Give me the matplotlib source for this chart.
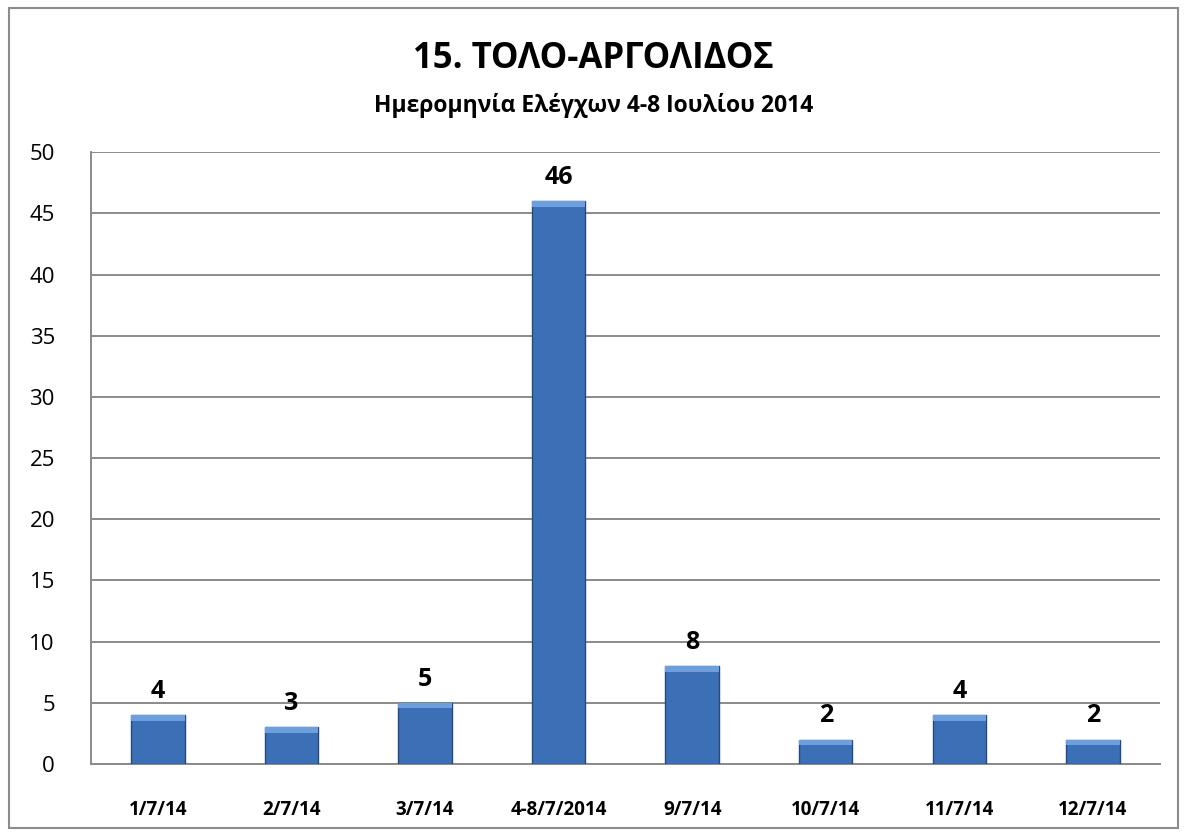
import numpy as np
import matplotlib.pyplot as plt
from matplotlib.patches import Rectangle

# data
dates = ["1/7/14", "2/7/14", "3/7/14", "4-8/7/2014", "9/7/14", "10/7/14", "11/7/14", "12/7/14"]
counts = [4, 3, 5, 46, 8, 2, 4, 2]
yticks = [0, 5, 10, 15, 20, 25, 30, 35, 40, 45, 50]

title = "15. ΤΟΛΟ-ΑΡΓΟΛΙΔΟΣ"
subtitle = "Ημερομηνία Ελέγχων 4-8 Ιουλίου 2014"

plt.rcParams['font.family'] = ['Open Sans', 'DejaVu Sans']

fig = plt.figure(figsize=(11.87, 8.36), dpi=100)
ax = fig.add_axes([0.0767, 0.0861, 0.9003, 0.7319])

# outer chart frame
fig.patches.append(Rectangle((0.008, 0.009), 0.984, 0.981, transform=fig.transFigure,
                             fill=False, edgecolor="#8c8c8c", linewidth=1.5))

x = np.arange(len(dates))
bars = ax.bar(x, counts, width=0.40, color="#3b70b7", edgecolor="#24497a", linewidth=1.0, zorder=3)

# lighter strip on top of each bar, like the bevel
for b in bars:
    ax.bar(b.get_x() + b.get_width() / 2, 0.45, bottom=b.get_height() - 0.45, width=b.get_width(),
           color="#6d9fdc", edgecolor="none", zorder=4)

for xi, v in zip(x, counts):
    ax.annotate(str(v), (xi, v), xytext=(0, 8), textcoords="offset points",
                ha="center", va="bottom", fontsize=18, fontweight="bold", color="black")

ax.set_xlim(-0.5, len(dates) - 0.5)
ax.set_ylim(0, 50)
ax.set_yticks(yticks)
ax.set_yticklabels([str(t) for t in yticks], fontsize=16)
ax.set_xticks(x)
ax.set_xticklabels(dates, fontsize=13.5, fontweight="bold")
ax.tick_params(axis="y", length=0, pad=26)
ax.tick_params(axis="x", length=0, pad=26)

ax.grid(axis="y", color="#8a8a8a", linewidth=1.4, zorder=0)
ax.spines["top"].set_visible(False)
ax.spines["right"].set_visible(False)
ax.spines["left"].set_color("#8a8a8a")
ax.spines["bottom"].set_color("#8a8a8a")
ax.spines["left"].set_linewidth(1.4)
ax.spines["bottom"].set_linewidth(1.4)

fig.text(0.5, 0.929, title, ha="center", va="center", fontsize=25, fontweight="bold")
fig.text(0.5, 0.874, subtitle, ha="center", va="center", fontsize=16.5, fontweight="bold")

fig.savefig("out.png", dpi=100)
